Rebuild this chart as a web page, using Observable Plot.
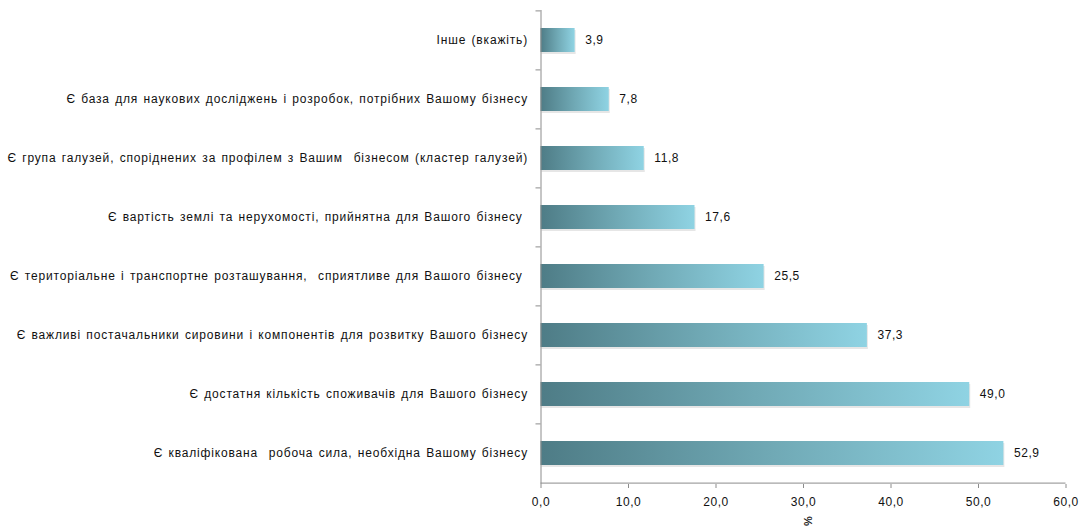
<!DOCTYPE html>
<html>
<head>
<meta charset="utf-8">
<script src="https://cdn.jsdelivr.net/npm/d3@7"></script>
<script src="https://cdn.jsdelivr.net/npm/@observablehq/plot@0.6"></script>
<style>
  html, body { margin: 0; padding: 0; background: #fff; }
  #chart svg { font-family: "Liberation Sans", Arial, sans-serif; }
  #chart svg text { letter-spacing: 0.6px; }
  #chart svg g[aria-label="y-axis tick label"] text { letter-spacing: 0.83px; word-spacing: 1.2px; white-space: pre; }
</style>
</head>
<body>
<div id="chart"></div>
<script>
const categories = [
  "Інше (вкажіть)",
  "Є база для наукових досліджень і розробок, потрібних Вашому бізнесу",
  "Є група галузей, споріднених за профілем з Вашим  бізнесом (кластер галузей)",
  "Є вартість землі та нерухомості, прийнятна для Вашого бізнесу ",
  "Є територіальне і транспортне розташування,  сприятливе для Вашого бізнесу ",
  "Є важливі постачальники сировини і компонентів для розвитку Вашого бізнесу",
  "Є достатня кількість споживачів для Вашого бізнесу",
  "Є кваліфікована  робоча сила, необхідна Вашому бізнесу"
];
const values = [3.9, 7.8, 11.8, 17.6, 25.5, 37.3, 49.0, 52.9];
const xTicks = [0, 10, 20, 30, 40, 50, 60];
const axisTitle = "%";

const data = categories.map((c, i) => ({label: c, value: values[i]}));
const fmt = d => d.toFixed(1).replace(".", ",");
const half = 29.6;

const chart = Plot.plot({
  width: 1084,
  height: 528,
  marginLeft: 540.5,
  marginRight: 18.5,
  marginTop: 10,
  marginBottom: 44,
  x: {domain: [0, 60]},
  y: {domain: categories, range: [10, 483.6], paddingInner: 0.595, paddingOuter: 0.2975},
  marks: [
    Plot.barX(data, {x: "value", y: "label", fill: "#e6e6e6", dy: 2, dx: 1}),
    Plot.barX(data, {x: "value", y: "label", fill: "url(#barGrad)"}),
    Plot.text(data, {x: "value", y: "label", text: d => fmt(d.value), textAnchor: "start", dx: 10, fontSize: 12, fill: "#111"}),
    Plot.ruleX([0], {stroke: "#8c8c8c"}),
    Plot.ruleY([categories[categories.length - 1]], {x1: 0, x2: 60, dy: half, stroke: "#8c8c8c"}),
    Plot.ruleY(categories, {x1: 0, x2: 0, insetLeft: -5, dy: -half, stroke: "#8c8c8c"}),
    Plot.axisY({tickSize: 0, tickPadding: 13, fontSize: 12, fill: "#111", label: null}),
    Plot.axisX({ticks: xTicks, tickFormat: fmt, tickSize: 4, tickPadding: 9, fontSize: 12, fill: "#111", stroke: "#8c8c8c", label: null}),
    Plot.text([axisTitle], {x: 30, frameAnchor: "bottom", dy: 37, rotate: 90, text: d => d, fontSize: 11, fontWeight: "bold", fill: "#222"})
  ]
});

d3.select(chart).insert("defs", ":first-child").html(`
  <linearGradient id="barGrad" x1="0" y1="0" x2="1" y2="0">
    <stop offset="0" stop-color="#4e7c86"/>
    <stop offset="0.5" stop-color="#70a9b5"/>
    <stop offset="1" stop-color="#8fd3e3"/>
  </linearGradient>`);

document.getElementById("chart").appendChild(chart);
</script>
</body>
</html>
